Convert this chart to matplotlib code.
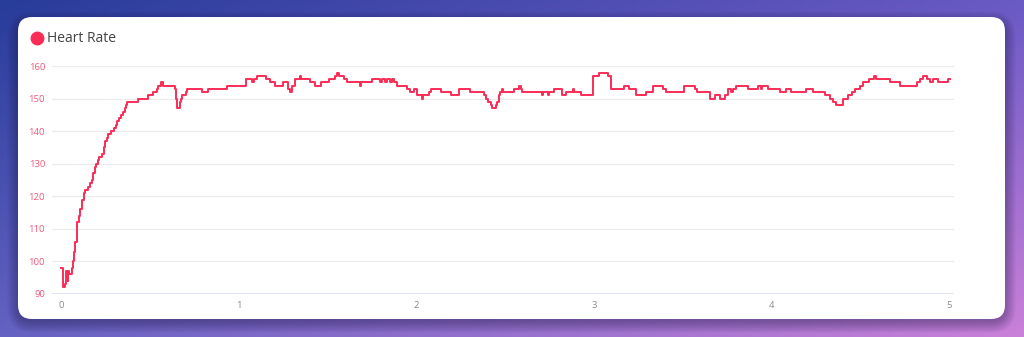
import numpy as np
import matplotlib
matplotlib.use("Agg")
import matplotlib.pyplot as plt
from matplotlib.patches import FancyBboxPatch

plt.rcParams['font.family'] = ['Open Sans', 'DejaVu Sans']

# elapsed time (minutes) where the heart rate changes, and the rate from that moment on
minutes = [
    0.000, 0.006, 0.010, 0.017, 0.023, 0.028, 0.034, 0.039, 0.045, 0.059,
    0.065, 0.070, 0.076, 0.085, 0.090, 0.096, 0.104, 0.113, 0.118, 0.127,
    0.135, 0.149, 0.163, 0.172, 0.177, 0.186, 0.194, 0.203, 0.211, 0.228,
    0.237, 0.245, 0.254, 0.262, 0.279, 0.296, 0.307, 0.315, 0.324, 0.335,
    0.346, 0.355, 0.361, 0.367, 0.433, 0.489, 0.514, 0.536, 0.546, 0.558,
    0.572, 0.639, 0.645, 0.651, 0.665, 0.672, 0.679, 0.699, 0.705, 0.794,
    0.827, 0.932, 1.038, 1.073, 1.082, 1.101, 1.152, 1.175, 1.203, 1.246,
    1.278, 1.287, 1.301, 1.317, 1.344, 1.349, 1.400, 1.428, 1.462, 1.505,
    1.539, 1.552, 1.565, 1.590, 1.608, 1.682, 1.687, 1.749, 1.794, 1.806,
    1.823, 1.834, 1.851, 1.862, 1.873, 1.890, 1.946, 1.963, 1.986, 2.001,
    2.031, 2.039, 2.070, 2.080, 2.136, 2.193, 2.239, 2.301, 2.380, 2.392,
    2.403, 2.417, 2.427, 2.446, 2.454, 2.462, 2.470, 2.483, 2.487, 2.549,
    2.580, 2.586, 2.596, 2.707, 2.715, 2.741, 2.749, 2.772, 2.817, 2.842,
    2.882, 2.887, 2.927, 2.996, 3.030, 3.077, 3.096, 3.171, 3.197, 3.237,
    3.293, 3.331, 3.387, 3.406, 3.507, 3.569, 3.580, 3.652, 3.680, 3.708,
    3.736, 3.755, 3.769, 3.783, 3.802, 3.868, 3.924, 3.941, 3.946, 3.980,
    4.046, 4.083, 4.112, 4.196, 4.234, 4.301, 4.330, 4.348, 4.363, 4.401,
    4.433, 4.452, 4.470, 4.499, 4.517, 4.551, 4.578, 4.589, 4.668, 4.724,
    4.818, 4.837, 4.855, 4.875, 4.893, 4.912, 4.940, 4.996, 5.005,
]
heart_rate = [
    98, 94, 92, 93, 95, 97, 94, 97, 96, 98,
    100, 103, 106, 109, 112, 114, 116, 117, 119, 121,
    122, 123, 124, 125, 127, 129, 130, 131, 132, 133,
    135, 137, 138, 139, 140, 141, 142, 143, 144, 145,
    146, 147, 148, 149, 150, 151, 152, 153, 154, 155,
    154, 153, 150, 147, 149, 150, 151, 152, 153, 152,
    153, 154, 156, 155, 156, 157, 156, 155, 154, 155,
    153, 152, 154, 156, 157, 156, 155, 154, 155, 156,
    157, 158, 157, 156, 155, 154, 155, 156, 155, 156,
    155, 156, 155, 156, 155, 154, 153, 152, 153, 151,
    150, 151, 152, 153, 152, 151, 153, 152, 151, 150,
    149, 148, 147, 148, 149, 151, 152, 153, 152, 153,
    154, 153, 152, 151, 152, 151, 152, 153, 151, 152,
    153, 152, 151, 157, 158, 157, 153, 154, 153, 151,
    152, 154, 153, 152, 154, 153, 152, 150, 151, 150,
    151, 153, 152, 153, 154, 153, 154, 153, 154, 153,
    152, 153, 152, 153, 152, 151, 150, 149, 148, 150,
    151, 152, 153, 154, 155, 156, 157, 156, 155, 154,
    155, 156, 157, 156, 155, 156, 155, 156, 156,
]
y_ticks = [90, 100, 110, 120, 130, 140, 150, 160]
x_ticks = [0, 1, 2, 3, 4, 5]
series_name = "Heart Rate"

line_color = '#fb2c55'
W, H = 1024, 337

fig = plt.figure(figsize=(W / 100, H / 100), dpi=100)

# background gradient + card, drawn in pixel coords
bg = fig.add_axes([0, 0, 1, 1])
bg.set_xlim(0, W)
bg.set_ylim(H, 0)
bg.axis('off')
tl = np.array([40, 60, 154]) / 255
tr = np.array([106, 90, 196]) / 255
bl = np.array([100, 98, 194]) / 255
br = np.array([202, 128, 217]) / 255
u = np.linspace(0, 1, 256)[None, :, None]
v = np.linspace(0, 1, 90)[:, None, None]
grad = (1 - v) * ((1 - u) * tl + u * tr) + v * ((1 - u) * bl + u * br)
bg.imshow(grad, extent=[0, W, H, 0], aspect='auto', zorder=0)

# soft shadow under the card
for i in range(8):
    grow = 1 + i * 1.5
    sh = FancyBboxPatch((18 - grow + 1, 17 - grow + 6), 987 + 2 * grow - 2, 302 + 2 * grow - 4,
                        boxstyle="round,pad=0,rounding_size=%d" % (14 + grow),
                        facecolor='#1a1440', edgecolor='none', alpha=0.05, zorder=1)
    bg.add_patch(sh)
card = FancyBboxPatch((18, 17), 987, 302, boxstyle="round,pad=0,rounding_size=14",
                      facecolor='white', edgecolor='none', zorder=2)
bg.add_patch(card)

# legend
bg.plot([37], [38], 'o', ms=9, color=line_color, zorder=3)
bg.text(47, 38, series_name, fontsize=10, color='#444444', va='center', ha='left', zorder=3)

ax = fig.add_axes([52 / W, (H - 294) / H, (954 - 52) / W, (294 - 66) / H])
ax.set_facecolor('none')
ax.step(minutes, heart_rate, where='post', color=line_color, lw=1.4, zorder=3)

ax.set_xlim(-0.0535, 5.028)
ax.set_ylim(90, 160)
ax.set_yticks(y_ticks)
ax.set_xticks(x_ticks)
ax.set_yticklabels([str(t) for t in y_ticks], fontsize=6.8, color='#f5577a')
ax.set_xticklabels([str(t) for t in x_ticks], fontsize=6.8, color='#8a8a8a')
ax.tick_params(axis='both', length=0)
ax.tick_params(axis='y', pad=5)
ax.tick_params(axis='x', pad=5)
for t in y_ticks[1:]:
    ax.axhline(t, color='#ebebeb', lw=0.9, zorder=1)
ax.axhline(90, color='#d9dff4', lw=1.2, zorder=1)
for s in ax.spines.values():
    s.set_visible(False)

fig.savefig('out.png', dpi=100)
